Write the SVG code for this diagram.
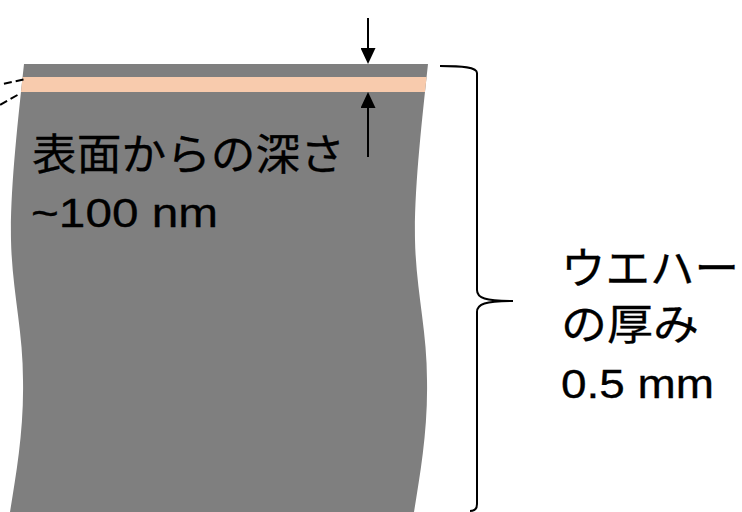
<svg xmlns="http://www.w3.org/2000/svg" width="742" height="512" viewBox="0 0 742 512">
<style>
.lat{font-family:"Liberation Sans",Arial,sans-serif;font-size:40px;fill:#000;stroke:#000;stroke-width:0.3}
.cjk{font-family:"Noto Sans CJK JP","Liberation Sans",sans-serif;font-size:43px;fill:#000;stroke:#000;stroke-width:0.3}
.ln{stroke:#000;stroke-width:2;fill:none}
.dash{stroke:#000;stroke-width:2;fill:none;stroke-dasharray:8,4}
</style>
<defs>
<path id="waferShape" d="M24,64 L428,64 C422,120 414,190 415,240 C416,290 427,330 427,380 C428,430 420,475 414,512 L10,512 C16,475 24,430 23,380 C23,330 12,290 11,240 C10,190 18,120 24,64 Z"/>
<clipPath id="wclip"><use href="#waferShape"/></clipPath>
<marker id="ah" viewBox="0 0 16 15" refX="12" refY="7.5" markerWidth="16" markerHeight="15" markerUnits="userSpaceOnUse" orient="auto">
<path d="M0,0 L16,7.5 L0,15 Z" fill="#000"/>
</marker>
</defs>
<g id="wafer">
<use href="#waferShape" fill="#7F7F7F"/>
<rect x="0" y="77" width="742" height="15" fill="#F8CBAD" clip-path="url(#wclip)"/>
</g>
<g id="connectors">
<line class="ln" x1="368" y1="18" x2="368" y2="60" marker-end="url(#ah)"/>
<line class="ln" x1="368" y1="157" x2="368" y2="96" marker-end="url(#ah)"/>
<line class="dash" x1="23.5" y1="79.5" x2="0" y2="84.5"/>
<line class="dash" x1="17.5" y1="95" x2="0" y2="105"/>
</g>
<g id="brace">
<path class="ln" d="M440,66 C462,66 477,67 477,73 L477,290 C477,298 485,301 513,301 C485,301 477,304 477,312 L477,504 C477,509 474,511 470,511"/>
</g>
<g id="depth-label">
<text class="cjk" x="32" y="170" textLength="313" lengthAdjust="spacingAndGlyphs">表面からの深さ</text>
<text class="lat" x="31" y="227" textLength="187" lengthAdjust="spacingAndGlyphs">~100 nm</text>
</g>
<g id="thickness-label">
<text class="cjk" x="561" y="284" textLength="178" lengthAdjust="spacingAndGlyphs">ウエハー</text>
<text class="cjk" x="561" y="340" textLength="138" lengthAdjust="spacingAndGlyphs">の厚み</text>
<text class="lat" x="561" y="398" textLength="153" lengthAdjust="spacingAndGlyphs">0.5 mm</text>
</g>
</svg>
